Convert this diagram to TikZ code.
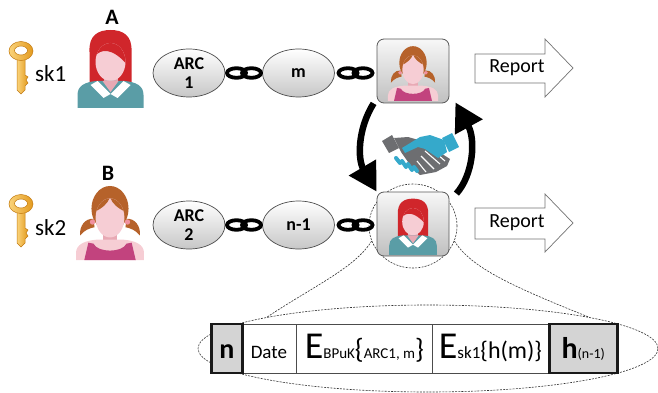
\documentclass[tikz,border=0pt]{standalone}
\usepackage{fontspec}
\setmainfont{Carlito}
\usetikzlibrary{shapes.geometric,arrows.meta}

\definecolor{hairred}{HTML}{D0262B}
\definecolor{hairbrown}{HTML}{B6622A}
\definecolor{skin}{HTML}{F6CDD4}
\definecolor{skindark}{HTML}{E8A9B4}
\definecolor{shirtteal}{HTML}{5A9DA6}
\definecolor{tankmag}{HTML}{C2437E}
\definecolor{tiepink}{HTML}{F0909F}
\definecolor{handgray}{HTML}{6D6E71}
\definecolor{handblue}{HTML}{35A9CB}
\definecolor{goldlight}{HTML}{FAD37A}
\definecolor{golddark}{HTML}{E39A1E}
\definecolor{goldline}{HTML}{C27A12}

\tikzset{
  bubble/.style={ellipse, minimum width=72pt, minimum height=48pt, inner sep=0pt,
    draw=black!70, line width=0.7pt, top color=white, bottom color=black!22,
    font=\bfseries\fontsize{18}{19}\selectfont, align=center},
  iconbox/.style={rectangle, rounded corners=7pt, minimum width=72pt, minimum height=64pt,
    draw=black!65, line width=0.8pt, top color=black!3, bottom color=black!25},
  reportshape/.style={draw=black!55, line width=0.7pt, fill=white},
  reporttext/.style={font=\fontsize{20}{20}\selectfont, inner sep=0pt},
  keytext/.style={font=\fontsize{23}{23}\selectfont, anchor=base west, inner sep=0pt},
  who/.style={font=\bfseries\fontsize{22}{22}\selectfont, inner sep=0pt},
  bigarrow/.style={line width=6.5pt, -{Triangle[length=28pt 0 0, width=30pt 0 0]}},
  lensline/.style={draw=black!80, line width=0.6pt, dash pattern=on 2pt off 1.2pt},
  cell/.style={rectangle, anchor=west, inner sep=0pt, text height=34pt, text depth=15pt,
    draw=black!70, line width=0.8pt},
  keycell/.style={cell, draw=black!90, line width=2.6pt, fill=black!17},
  chainlink/.pic={
    \draw[line width=3.8pt] (-7.5,0) ellipse (9.5 and 4.8) (7.5,0) ellipse (9.5 and 4.8);
  },
  keyicon/.pic={
    \shadedraw[left color=goldlight, right color=golddark, draw=goldline, line width=0.5pt]
      (-4,7) -- (4,7) -- (4,24) -- (7,26) -- (5,29) -- (7,32) -- (4,35) -- (4,39)
      -- (0,43) -- (-4,39) -- cycle;
    \shadedraw[left color=goldlight, right color=golddark, draw=goldline, line width=0.5pt,
      even odd rule] (0,0) ellipse (12 and 9.5) (0,-0.5) ellipse (6.5 and 4.5);
  },
  womanicon/.pic={
    \fill[hairred] (-21,14) -- (-21,-16) .. controls (-22,-33) and (-12,-38) .. (0,-38)
      .. controls (12,-38) and (22,-33) .. (21,-16) -- (21,14) -- cycle;
    \fill[skindark] (-7,2) rectangle (7,20);
    \fill[skin] (0,-6) ellipse (15 and 19);
    \begin{scope}
      \clip (0,-6) ellipse (15 and 19);
      \fill[hairred] (-16,-30) -- (-16,-11) .. controls (-10,-20) and (2,-20) .. (16,-4)
        -- (16,-30) -- cycle;
    \end{scope}
    \fill[shirtteal] (-33,40) -- (-33,27) .. controls (-33,18) and (-26,14) .. (-14,13)
      -- (14,13) .. controls (26,14) and (33,18) .. (33,27) -- (33,40) -- cycle;
    \fill[white] (-13,13) -- (0,26) -- (-7,30) -- (-20,17) -- cycle;
    \fill[white] (13,13) -- (0,26) -- (7,30) -- (20,17) -- cycle;
    \fill[skindark] (-8,13) -- (0,24) -- (8,13) -- cycle;
  },
  girlicon/.pic={
    \fill[hairbrown] (0,-12) ellipse (18 and 22);
    \fill[hairbrown] (-16,-2) .. controls (-24,-3) and (-30,5) .. (-29,14)
      .. controls (-25,9) and (-20,7) .. (-15,6) -- cycle;
    \fill[hairbrown] (16,-2) .. controls (24,-3) and (30,5) .. (29,14)
      .. controls (25,9) and (20,7) .. (15,6) -- cycle;
    \fill[tiepink] (-17,1) circle (2.6) (17,1) circle (2.6);
    \fill[skindark] (-7,6) rectangle (7,22);
    \fill[skin] (-33,38) -- (-33,31) .. controls (-33,23) and (-25,19) .. (-12,18)
      -- (12,18) .. controls (25,19) and (33,23) .. (33,31) -- (33,38) -- cycle;
    \fill[tankmag] (-25,38) -- (-21,21) -- (-16,22) .. controls (-12,31) and (12,31) .. (16,22)
      -- (21,21) -- (25,38) -- cycle;
    \fill[skin] (0,-3) ellipse (14 and 19);
    \begin{scope}
      \clip (0,-3) ellipse (14 and 19);
      \fill[hairbrown] (-15,-9) .. controls (-8,-12) and (-2,-17) .. (0,-23)
        .. controls (2,-17) and (8,-12) .. (15,-9) -- (15,-30) -- (-15,-30) -- cycle;
    \end{scope}
  },
  handshake/.pic={
    % grey hand reaching from the left
    \fill[handgray] (12,16) -- (22,10) -- (29,23) -- (19,28) -- cycle;
    \fill[handgray] (24,13) -- (38,12) -- (52,16) -- (80,34) -- (77,41) -- (66,47)
      -- (50,50) -- (43,44) -- (31,27) -- cycle;
    \draw[white, line width=1.1pt] (55,26) -- (70,39) (60,23) -- (75,36)
      (51,31) -- (64,44) (47,36) -- (56,47);
    % blue hand reaching from the right
    \fill[handblue] (72,13) -- (82,8) -- (89,22) -- (79,27) -- cycle;
    \fill[handblue] (74,15) -- (60,10) -- (50,12) -- (32,23) -- (35,28) -- (48,22)
      -- (55,24) -- (68,33) -- (77,27) -- cycle;
    \draw[handblue, line width=4pt, line cap=round]
      (26,33) -- (30,38) (32,36) -- (36,42) (38,39) -- (42,45) (44,42) -- (47,46);
  },
}

\begin{document}
\begin{tikzpicture}[x=1pt, y=-1pt]
\useasboundingbox (0,0) rectangle (658,393);

% ---- sender A ----
\pic at (21,51) {keyicon};
\node[keytext] (skA) at (35,82) {sk1};
\node[who] (labA) at (112,17) {A};
\pic at (110.5,68) {womanicon};
\node[bubble] (arc1) at (189,73) {ARC\\1};
\node[bubble] (mA) at (298.5,73) {m};
\pic at (244,73) {chainlink};
\pic at (355.5,73) {chainlink};
\node[iconbox] (boxA) at (413,71) {};
\pic[scale=0.76] at (413,72) {girlicon};

% ---- sender B ----
\pic at (21,204) {keyicon};
\node[keytext] (skB) at (35,235) {sk2};
\node[who] (labB) at (108,173) {B};
\pic[scale=1.03] at (110,221) {girlicon};
\node[bubble] (arc2) at (189,225) {ARC\\2};
\node[bubble] (nB) at (298.5,225) {n-1};
\pic at (244,225) {chainlink};
\node[lensline, ellipse, minimum width=88pt, minimum height=84pt] (lens) at (413,226) {};
\pic at (355.5,225) {chainlink};
\node[iconbox] (boxB) at (413,224) {};
\pic[scale=0.72] at (413,226) {womanicon};

% ---- report arrows ----
\path[reportshape] (475,54) -- (545,54) -- (545,39) -- (573,68) -- (545,97) -- (545,83)
  -- (475,83) -- cycle;
\node[reporttext] (repA) at (517,68) {Report};
\path[reportshape] (475,208) -- (545,208) -- (545,194) -- (573,223) -- (545,252)
  -- (545,239) -- (475,239) -- cycle;
\node[reporttext] (repB) at (517,223) {Report};

% ---- exchange between the two boxes ----
\pic at (370,125) {handshake};
\draw[bigarrow] ([xshift=-3pt]boxA.south west) .. controls (357,130) and (358,160)
  .. (boxB.north west);
\draw[bigarrow] ([xshift=7pt, yshift=-2pt]boxB.north east) .. controls (473,175) and (476,140)
  .. ([xshift=6pt, yshift=1pt]boxA.south east);

% ---- magnified record ----
\node[lensline, ellipse, minimum width=460pt, minimum height=87pt] (detail) at (428,348.5) {};
\draw[lensline] (lens.200) .. controls (355,268) and (312,287) .. (detail.169);
\draw[lensline] (lens.-20) .. controls (471,268) and (514,287) .. (detail.11);

\node[cell, minimum width=55pt] (date) at (241,348.5)
  {\fontsize{19}{19}\selectfont Date};
\node[cell, minimum width=136pt] (encA) at (296,348.5)
  {\fontsize{38}{38}\selectfont E\fontsize{15}{15}\selectfont BPuK\fontsize{28}{28}\selectfont\{\fontsize{15}{15}\selectfont ARC1, m\fontsize{28}{28}\selectfont\}};
\node[cell, minimum width=116pt] (encB) at (432,348.5)
  {\fontsize{38}{38}\selectfont E\fontsize{17}{17}\selectfont sk1\fontsize{24}{24}\selectfont\{h(m)\}};
\node[keycell, minimum width=31pt] (idx) at (210,348.5)
  {\bfseries\fontsize{28}{28}\selectfont n};
\node[keycell, minimum width=68pt] (hash) at (548,348.5)
  {\bfseries\fontsize{30}{30}\selectfont h\mdseries\fontsize{14}{14}\selectfont(n-1)};
\end{tikzpicture}
\end{document}
